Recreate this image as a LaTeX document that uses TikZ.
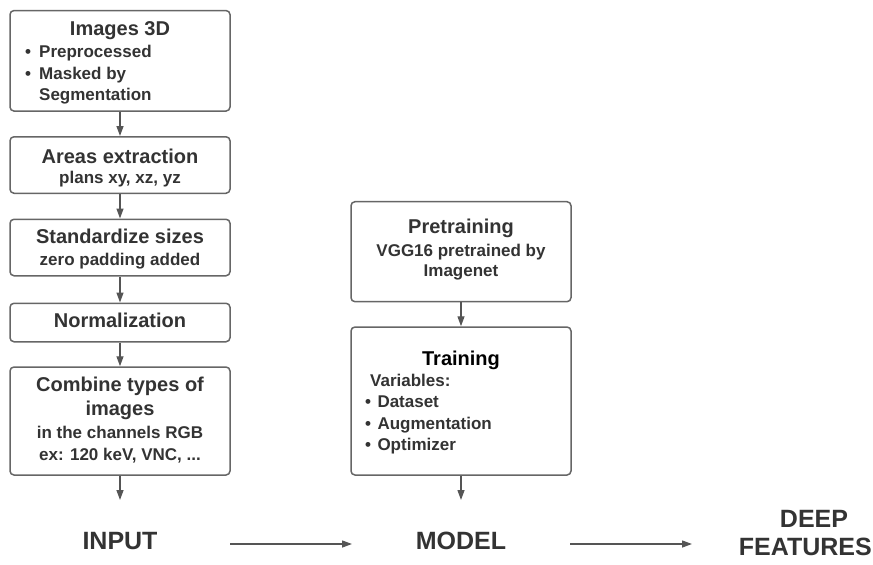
\documentclass[tikz,border=0pt]{standalone}
\usepackage{fontspec}
\setmainfont{Liberation Sans}
\usetikzlibrary{arrows.meta}
\definecolor{ink}{HTML}{333333}
\definecolor{frame}{HTML}{666666}
\definecolor{wire}{HTML}{555555}
\newcommand{\fsTitle}{\fontsize{20}{24}\selectfont\bfseries}
\newcommand{\fsSub}{\fontsize{17}{20}\selectfont\bfseries}
\newcommand{\fsBig}{\fontsize{25}{29}\selectfont\bfseries}
\tikzset{
  box/.style={draw=frame, line width=1.5pt, rounded corners=4pt, fill=white,
    rectangle, inner sep=0pt, minimum width=220pt},
  arr/.style={draw=wire, line width=1.3pt, -{Triangle[length=10pt,width=7pt]}},
  ttl/.style={anchor=base, inner sep=0pt, text=ink, font=\fsTitle},
  sub/.style={anchor=base, inner sep=0pt, text=ink, font=\fsSub},
  subl/.style={anchor=base west, inner sep=0pt, text=ink, font=\fsSub},
  big/.style={anchor=base, inner sep=0pt, text=ink, font=\fsBig},
}
\begin{document}
\begin{tikzpicture}[x=1pt, y=-1pt]
\useasboundingbox (0,0) rectangle (873,565);

% input pipeline boxes
\node[box, minimum height=100.5pt] (b1) at (120,60.8) {};
\node[box, minimum height=56.5pt]  (b2) at (120,165) {};
\node[box, minimum height=56.5pt]  (b3) at (120,247.5) {};
\node[box, minimum height=38.5pt]  (b4) at (120,322.5) {};
\node[box, minimum height=108pt]   (b5) at (120,421) {};

% model boxes
\node[box, minimum height=100pt] (p1) at (461,251.7) {};
\node[box, minimum height=148pt] (p2) at (461,401) {};

% texts of the input pipeline
\node[ttl] (t1) at (120,35) {Images 3D};
\node[subl] (t1a) at (25,57.5) {•};
\node[subl] (t1b) at (39,57.5) {Preprocessed};
\node[subl] (t1c) at (25,79) {•};
\node[subl] (t1d) at (39,79) {Masked by};
\node[subl] (t1e) at (39,100) {Segmentation};

\node[ttl] (t2) at (120,163.3) {Areas extraction};
\node[sub] (t2a) at (120,183.5) {plans xy, xz, yz};

\node[ttl] (t3) at (120,243.3) {Standardize sizes};
\node[sub] (t3a) at (120,265) {zero padding added};

\node[ttl] (t4) at (120,327.3) {Normalization};

\node[ttl] (t5) at (120,391.7) {Combine types of};
\node[ttl] (t5a) at (120,415) {images};
\node[sub] (t5b) at (120,438.3) {in the channels RGB};
\node[sub] (t5c) at (120,460) {ex: 120 keV, VNC, ...};

% texts of the model column
\node[ttl] (q1) at (461,233.3) {Pretraining};
\node[sub] (q1a) at (461,256.7) {VGG16 pretrained by};
\node[sub] (q1b) at (461,276.7) {Imagenet};

\node[ttl, text=black] (q2) at (461,365) {Training};
\node[subl] (q2a) at (370,386.7) {Variables:};
\node[subl] (q2b) at (365,407.3) {•};
\node[subl] (q2c) at (377.3,407.3) {Dataset};
\node[subl] (q2d) at (365,429) {•};
\node[subl] (q2e) at (377.3,429) {Augmentation};
\node[subl] (q2f) at (365,450) {•};
\node[subl] (q2g) at (377.3,450) {Optimizer};

% stage labels
\node[big] (in) at (120,549) {INPUT};
\node[big] (mod) at (461,549) {MODEL};
\node[big] (df1) at (814,527.3) {DEEP};
\node[big, anchor=base east] (df) at (872,555) {FEATURES};

% connectors
\draw[arr] (b1.south) -- (b2.north);
\draw[arr] (b2.south) -- (b3.north);
\draw[arr] (b3.south) -- (b4.north);
\draw[arr] (b4.south) -- (b5.north);
\coordinate (e5) at (120,500);
\draw[arr] (b5.south) -- (e5);

\draw[arr] (p1.south) -- (p2.north);
\coordinate (e6) at (461,500);
\draw[arr] (p2.south) -- (e6);

\coordinate (h1a) at (230,544);
\coordinate (h1b) at (352,544);
\coordinate (h2a) at (570,544);
\coordinate (h2b) at (692,544);
\draw[arr] (h1a) -- (h1b);
\draw[arr] (h2a) -- (h2b);
\end{tikzpicture}
\end{document}
